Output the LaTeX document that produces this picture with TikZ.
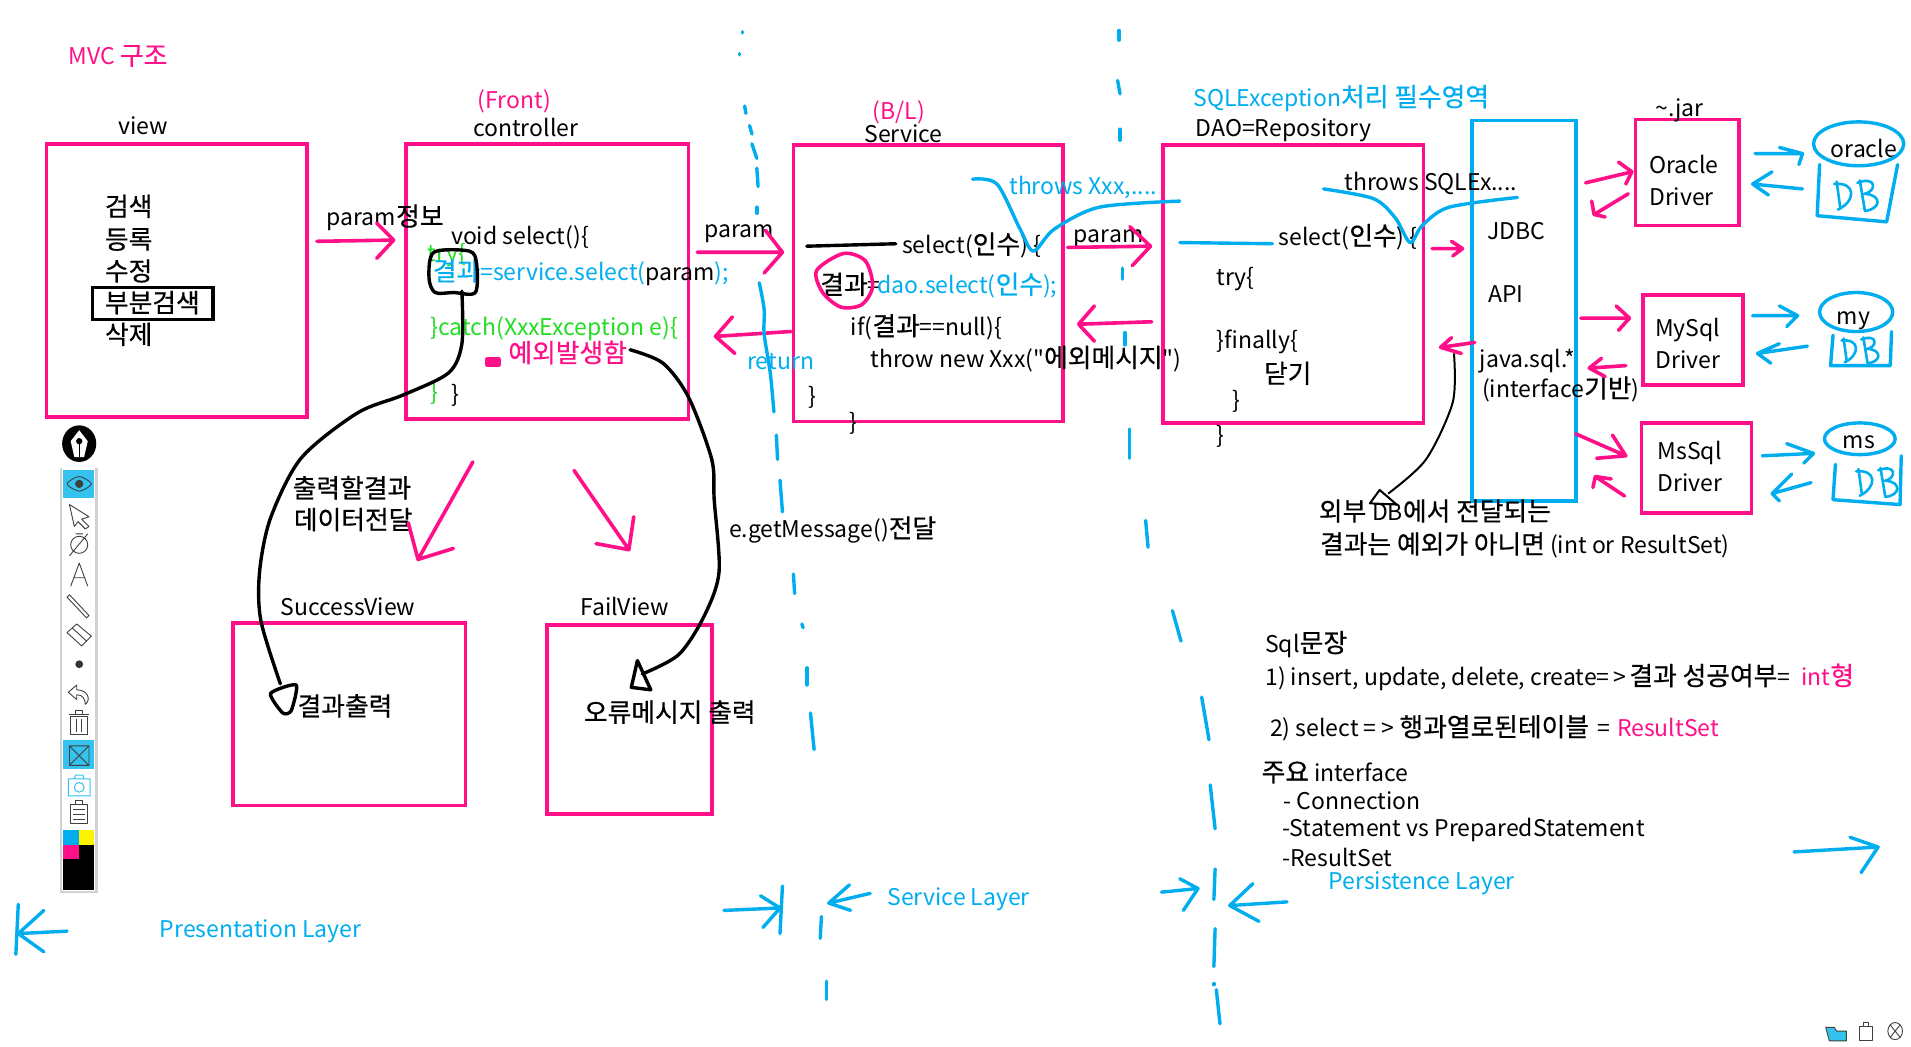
\documentclass[tikz,border=0pt]{standalone}
\usepackage{fontspec}
\usepackage{xcolor}
\usetikzlibrary{fit}
\setmainfont[Ligatures=TeXOff]{Noto Sans CJK KR}
\newfontfamily\krfont[Ligatures=TeXOff, Scale=1.12, FakeBold=0.5]{Noto Sans CJK KR}
\definecolor{mvcpink}{HTML}{FF1088}
\definecolor{mvcblue}{HTML}{00AEEF}
\definecolor{mvcgreen}{HTML}{22DD22}
\definecolor{toolblue}{HTML}{33C3EE}
\newcommand{\tf}{\fontsize{23}{27}\selectfont}
\newcommand{\kr}[1]{{\krfont #1}}
\tikzset{
  lab/.style={anchor=west, inner sep=0pt, font=\tf, text height=25pt, text depth=5pt},
  labp/.style={lab, text=mvcpink},
  labb/.style={lab, text=mvcblue},
  labg/.style={lab, text=mvcgreen},
  pbox/.style={draw=mvcpink, line width=3.6pt, inner sep=0pt},
  bbox/.style={draw=mvcblue, line width=3.6pt, inner sep=0pt},
  kbox/.style={draw=black, line width=3.6pt, inner sep=0pt},
  pinkpen/.style={draw=mvcpink, line width=3.6pt, line cap=round, line join=round},
  bluepen/.style={draw=mvcblue, line width=3.4pt, line cap=round, line join=round},
  blackpen/.style={draw=black, line width=3.4pt, line cap=round, line join=round},
  icon/.style={draw=black!75, line width=0.9pt, line join=round}
}
\newcommand{\dbmark}[3]{
  \begin{scope}[shift={(#1,#2)}, scale=#3]
    \draw[bluepen, line width=2.6pt] (2,2)--(5,24) (0,4) .. controls (18,2) and (18,18) .. (3,25);
    \draw[bluepen, line width=2.6pt] (21,1)--(25,25) (19,3) .. controls (35,-3) and (35,10) .. (25,12) .. controls (40,13) and (38,25) .. (25,26);
  \end{scope}
}

\begin{document}
\begin{tikzpicture}[x=1.21875pt, y=-1.21875pt]
  \useasboundingbox[fill=white] (0,0) rectangle (1568,859);

  \node[pbox, fit={(38,118) (252,342)}] (view) {};
  \node[pbox, fit={(333,118) (565,344)}] (controller) {};
  \node[pbox, fit={(651,119) (872,346)}] (service) {};
  \node[pbox, fit={(954,119) (1168,347)}] (dao) {};
  \node[bbox, fit={(1208,99) (1293,411)}] (jdbc) {};
  \node[pbox, fit={(1342,98) (1427,185)}] (oracle) {};
  \node[pbox, fit={(1348,242) (1430,316)}] (mysql) {};
  \node[pbox, fit={(1347,347) (1437,421)}] (mssql) {};
  \node[pbox, fit={(191,511) (382,661)}] (success) {};
  \node[pbox, fit={(449,513) (584,668)}] (fail) {};
  \node[kbox, fit={(76,236) (175,262)}] (partsearch) {};

  \node[labp] (mvctitle) at (56,45) {MVC \kr{구조}};
  \node[lab] (viewlab) at (97,102) {view};
  \node[labp] (frontlab) at (392,81) {(Front)};
  \node[lab] (ctrllab) at (388,104) {controller};
  \node[lab] (m1) at (86,169) {\kr{검색}};
  \node[lab] (m2) at (86,196) {\kr{등록}};
  \node[lab] (m3) at (86,222) {\kr{수정}};
  \node[lab] (m4) at (86,248) {\kr{부분검색}};
  \node[lab] (m5) at (86,274) {\kr{삭제}};

  \node[lab] (paraminfo) at (268,177) {param\kr{정보}};
  \node[lab] (voidsel) at (370,192) {void select()\{};
  \node[labg] (trylab) at (351,206) {try\{};
  \node[labb] (callsvc) at (355,222) {\kr{결과}=service.select(\textcolor{black}{param});};
  \node[labg] (catchlab) at (353,267) {\}catch(XxxException e)\{};
  \node[labp] (excplab) at (417,289) {\kr{예외발생함}};
  \node[labg] (closeg) at (353,320) {\}};
  \node[lab] (closek) at (370,322) {\}};
  \node[lab] (param1) at (578,187) {param};
  \node[labb] (returnlab) at (613,295) {return};

  \node[labp] (bllab) at (716,90) {(B/L)};
  \node[lab] (svclab) at (709,109) {Service};
  \node[lab] (selsvc) at (740,200) {select(\kr{인수}) \{};
  \node[lab] (resk) at (673,233) {\kr{결과}=};
  \node[labb] (calldao) at (720,233) {dao.select(\kr{인수});};
  \node[lab] (iflab) at (698,267) {if(\kr{결과}==null)\{};
  \node[lab] (throwlab) at (714,293) {throw new Xxx("\kr{에외메시지}")};
  \node[lab] (close1) at (663,324) {\}};
  \node[lab] (close2) at (697,345) {\}};
  \node[labb] (throwsx) at (828,151) {throws Xxx,....};
  \node[lab] (param2) at (881,191) {param};

  \node[labb] (sqlexc) at (979,79) {SQLException\kr{처리 필수영역}};
  \node[lab] (daolab) at (981,104) {DAO=Repository};
  \node[lab] (throwsq) at (1103,148) {throws SQLEx....};
  \node[lab] (seldao) at (1049,193) {select(\kr{인수}) \{};
  \node[lab] (trydao) at (998,226) {try\{};
  \node[lab] (finallylab) at (998,278) {\}finally\{};
  \node[lab] (closelab) at (1037,306) {\kr{닫기}};
  \node[lab] (close3) at (1011,327) {\}};
  \node[lab] (close4) at (998,356) {\}};

  \node[lab] (jdbclab) at (1220,188) {JDBC};
  \node[lab] (apilab) at (1221,240) {API};
  \node[lab] (javasql) at (1214,293) {java.sql.*};
  \node[lab] (ifacelab) at (1216,318) {(interface\kr{기반})};
  \node[lab] (jarlab) at (1358,87) {\textasciitilde.jar};
  \node[lab] (oralab1) at (1353,134) {Oracle};
  \node[lab] (oralab2) at (1353,160) {Driver};
  \node[lab] (mylab1) at (1358,268) {MySql};
  \node[lab] (mylab2) at (1358,294) {Driver};
  \node[lab] (mslab1) at (1360,369) {MsSql};
  \node[lab] (mslab2) at (1360,395) {Driver};
  \node[lab] (oradb) at (1502,121) {oracle};
  \node[lab] (mydb) at (1507,258) {my};
  \node[lab] (msdb) at (1512,360) {ms};
  \node[lab] (ext1) at (1082,419) {\kr{외부 }DB\kr{에서 전달되는}};
  \node[lab] (ext2) at (1083,446) {\kr{결과는 예외가 아니면} (int or ResultSet)};

  \node[lab] (out1) at (240,400) {\kr{출력할결과}};
  \node[lab] (out2) at (241,426) {\kr{데이터전달}};
  \node[lab] (getmsg) at (598,433) {e.getMessage()\kr{전달}};
  \node[lab] (succlab) at (230,497) {SuccessView};
  \node[lab] (faillab) at (476,497) {FailView};
  \node[lab] (resout) at (244,579) {\kr{결과출력}};
  \node[lab] (errout) at (479,584) {\kr{오류메시지 출력}};

  \node[lab] (sqllab) at (1038,527) {Sql\kr{문장}};
  \node[lab] (sql1) at (1038,554) {1) insert, update, delete, create=\hspace{4pt}>\hspace{3pt}\kr{결과 성공여부}= \hspace{6pt}\textcolor{mvcpink}{int\kr{형}}};
  \node[lab] (sql2) at (1042,596) {2) select =\hspace{5pt}>\hspace{5pt}\kr{행과열로된테이블} \hspace{3pt}= \hspace{2pt}\textcolor{mvcpink}{ResultSet}};
  \node[lab] (mainif) at (1035,633) {\kr{주요} interface};
  \node[lab] (if1) at (1053,656) {- Connection};
  \node[lab] (if2) at (1052,678) {-Statement vs PreparedStatement};
  \node[lab] (if3) at (1052,703) {-ResultSet};
  \node[labb] (perslab) at (1090,722) {Persistence Layer};
  \node[labb] (svclayer) at (728,735) {Service Layer};
  \node[labb] (preslab) at (131,761) {Presentation Layer};

  \foreach \sx/\sy/\tx/\ty/\ax/\ay/\bx/\by in {
    260/198/323/197/309/183/309/212, 572/207/642/207/628/189/627/224,
    649/272/587/276/601/260/603/290, 876/203/944/202/927/186/929/218,
    945/264/885/266/898/251/898/280, 1175/204/1200/204/1191/198/1192/210,
    1210/281/1182/285/1191/277/1199/290, 1301/150/1339/141/1328/133/1334/151,
    1336/159/1308/176/1306/165/1317/178, 1297/261/1337/261/1326/251/1328/271,
    1334/300/1304/302/1314/294/1317/309, 1293/356/1334/374/1323/357/1310/376,
    1333/407/1309/391/1307/400/1322/393, 388/379/343/459/335/429/372/450,
    471/386/516/451/520/424/489/446}
    \draw[pinkpen] (\sx,\sy)--(\tx,\ty) (\ax,\ay)--(\tx,\ty)--(\bx,\by);
  \draw[pinkpen] plot[smooth cycle] coordinates {(692,208) (710,214) (716,235) (707,250) (690,252) (675,240) (670,222)};
  \fill[mvcpink, rounded corners=2pt] (398,293) rectangle (411,301);

  \draw[blackpen] plot[smooth cycle, tension=0.5] coordinates {(356,207) (385,206) (391,216) (390,240) (372,240) (357,240) (352,228)};
  \draw[blackpen] (662,202)--(735,200);
  \draw[blackpen] plot[smooth] coordinates {(379,239) (379,282) (368,306) (331,324) (293,339) (247,376) (222,425) (213,469) (214,509) (230,561)};
  \draw[blackpen] plot[smooth cycle, tension=0.4] coordinates {(222,569) (243,562) (239,583) (232,585)};
  \draw[blackpen] plot[smooth] coordinates {(517,287) (544,298) (565,326) (584,377) (586,410) (590,469) (578,505) (557,537) (527,553)};
  \draw[blackpen] (523,542)--(518,564)--(534,566)--cycle;
  \draw[black, line width=2pt, line join=round] plot[smooth] coordinates {(1193,290) (1192,330) (1170,377) (1139,405)};
  \draw[black, line width=2pt, line join=round] (1132,402)--(1124,413)--(1146,414)--cycle;

  \foreach \ax/\ay/\bx/\by in {
    609/26/609/27, 607/44/607/45, 611/87/612/93, 615/103/617/110, 617/118/621/130,
    621/138/622/153, 621/170/621/175, 637/357/638/377, 640/394/642/420, 651/471/652/487,
    658/512/659/515, 662/548/662/562, 665/585/668/615, 642/727/640/766, 674/752/673/770,
    678/805/678/820, 918/25/918/33, 917/66/919/77, 919/106/919/115, 921/220/921/229,
    923/273/923/283, 927/352/927/376, 940/427/942/449, 962/501/969/526, 986/572/992/607,
    993/644/997/680, 997/713/996/738, 997/762/996/793, 996/807/996/808, 998/812/1001/840}
    \draw[bluepen] (\ax,\ay)--(\bx,\by);
  \draw[bluepen] plot[smooth] coordinates {(623,232) (627,254) (627,274) (632,306) (635,338)};

  \foreach \sx/\sy/\tx/\ty/\ax/\ay/\bx/\by in {
    55/764/15/766/36/747/36/781, 594/747/640/745/624/735/626/761,
    714/733/680/741/697/726/698/747, 953/732/983/729/968/721/971/747,
    1056/740/1009/743/1028/725/1033/756, 1472/699/1541/695/1518/687/1527/716,
    1440/126/1479/126/1460/121/1476/135, 1479/155/1438/151/1454/141/1451/160,
    1438/259/1475/259/1460/251/1466/268, 1483/284/1442/290/1460/282/1453/298,
    1446/374/1488/372/1466/364/1480/380, 1486/396/1454/405/1470/389/1460/411}
    \draw[bluepen] (\sx,\sy)--(\tx,\ty) (\ax,\ay)--(\tx,\ty)--(\bx,\by);
  \draw[bluepen] (15,742)--(13,783);
  \draw[bluepen] plot[smooth] coordinates {(798,147) (818,151) (837,188) (848,206) (865,188) (902,170) (968,165)};
  \draw[bluepen] plot[smooth] coordinates {(1086,155) (1127,163) (1145,179) (1157,199) (1167,185) (1189,170) (1245,162)};
  \draw[bluepen] (968,199)--(1044,200);

  \draw[bluepen] (1525,118) ellipse [x radius=37, y radius=18];
  \draw[bluepen] (1523,256) ellipse [x radius=30, y radius=16];
  \draw[bluepen] (1526,360) ellipse [x radius=29, y radius=13];
  \draw[bluepen] (1493,135)--(1491,177)--(1548,182)--(1557,135);
  \draw[bluepen] (1504,275)--(1502,300)--(1551,300)--(1552,272);
  \draw[bluepen] (1506,381)--(1504,410)--(1559,414)--(1560,374);
  \dbmark{1505}{147}{1}
  \dbmark{1511}{276}{0.85}
  \dbmark{1523}{383}{0.95}

  \fill[black!18] (49,384) rectangle (80,733);
  \fill[white] (51,384) rectangle (78,731);
  \fill[black] (65,364) ellipse [x radius=14, y radius=15];
  \fill[white] (58,362)--(65,353)--(72,362)--(69,375)--(61,375)--cycle;
  \fill[black] (65,362) circle (2.6);
  \draw[black, line width=1pt] (65,362)--(65,375);
  \fill[toolblue] (52,386) rectangle (77,409);
  \fill[toolblue] (52,607) rectangle (77,631);
  \draw[icon] plot[smooth cycle] coordinates {(55,397) (65,391) (75,397) (65,403)};
  \fill[black!75] (65,397) circle (3.4);
  \draw[icon] (57,414)--(73,424)--(67,426)--(73,432)--(70,434)--(64,428)--(61,432)--cycle;
  \draw[icon] (65,447) circle (7) (62,438)--(68,438) (57,456)--(72,438);
  \draw[icon] (58,481)--(65,462)--(72,481) (61,474)--(69,474);
  \draw[icon] (57,488)--(73,505)--(71,507)--(55,490)--cycle;
  \draw[icon] (63,512)--(75,522)--(67,530)--(55,519)--cycle (59,515)--(71,526);
  \fill[black!80] (65,545) circle (3.2);
  \draw[icon] (56,568)--(63,562)--(63,566) .. controls (72,566) and (75,574) .. (70,578) (56,568)--(63,574)--(63,570) .. controls (68,570) and (70,574) .. (70,578);
  \draw[icon] (58,588) rectangle (72,603) (57,586)--(73,586) (62,586)--(62,583)--(68,583)--(68,586) (63,590)--(63,601) (67,590)--(67,601);
  \draw[icon] (57,612) rectangle (73,628) (57,612)--(73,628) (73,612)--(57,628);
  \draw[draw=toolblue, line width=1pt, fill=white] (56,639) rectangle (74,653) (65,646) circle (4) (61,639)--(62,636)--(68,636)--(69,639);
  \draw[icon] (58,660) rectangle (72,676) (62,660)--(62,657)--(68,657)--(68,660) (60,664)--(70,664) (60,668)--(70,668) (60,672)--(70,672);
  \fill[mvcblue] (52,681) rectangle (65,693);
  \fill[yellow] (65,681) rectangle (77,693);
  \fill[mvcpink] (52,693) rectangle (65,705);
  \fill[black] (65,693) rectangle (77,705);
  \fill[black] (52,705) rectangle (77,730);

  \draw[icon, fill=toolblue] (1498,843)--(1505,843)--(1507,846)--(1515,846)--(1515,854)--(1501,854)--cycle;
  \draw[icon] (1526,842) rectangle (1536,854) (1529,842)--(1529,839)--(1533,839)--(1533,842);
  \draw[icon] (1555,846) ellipse [x radius=6, y radius=7] (1551,841)--(1559,851) (1559,841)--(1551,851);
\end{tikzpicture}
\end{document}
